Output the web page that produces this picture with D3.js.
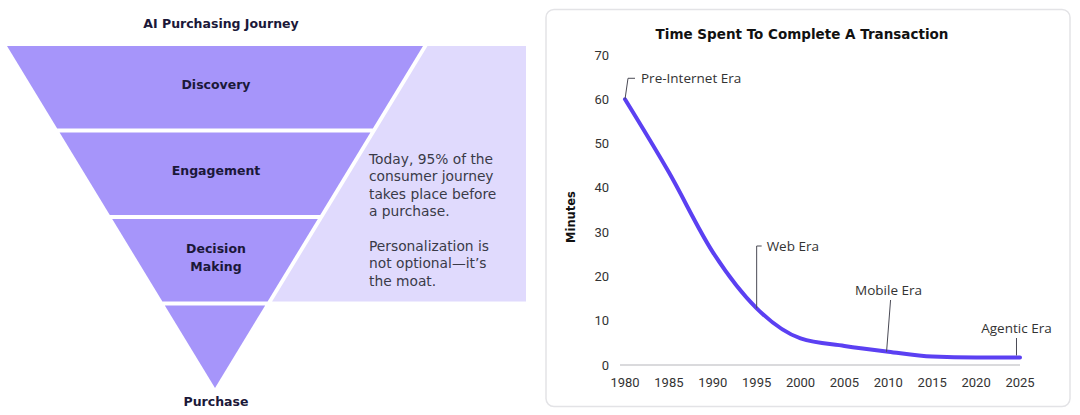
<!DOCTYPE html>
<html>
<head>
<meta charset="utf-8">
<script src="https://cdn.jsdelivr.net/npm/d3@7"></script>
<style>
  body { margin: 0; background: #fff; }
  svg { display: block; font-family: Roboto, "Noto Sans", sans-serif; }
  .bold { font-family: "DejaVu Sans", sans-serif; font-weight: bold; }
  .note { font-family: "DejaVu Sans", sans-serif; }
  .era { font-family: "Open Sans", sans-serif; }
</style>
</head>
<body>
<div id="chart"></div>
<script>
// funnel stages, top to bottom
const stages = ['Discovery', 'Engagement', 'Decision Making', 'Purchase'];
const noteLines = [
  ['Today, 95% of the', 'consumer journey', 'takes place before', 'a purchase.'],
  ['Personalization is', 'not optional\u2014it\u2019s', 'the moat.']
];

// time spent to complete a transaction (minutes)
const years = [1980, 1985, 1990, 1995, 2000, 2005, 2010, 2015, 2020, 2025];
const minutes = [60, 43.5, 25.5, 12.8, 6.0, 4.3, 3.0, 1.9, 1.7, 1.7];
const yTicks = [0, 10, 20, 30, 40, 50, 60, 70];
const xTicks = [1980, 1985, 1990, 1995, 2000, 2005, 2010, 2015, 2020, 2025];
const eras = [
  { label: 'Pre-Internet Era', year: 1980, value: 60 },
  { label: 'Web Era', year: 1995, value: 12.8 },
  { label: 'Mobile Era', year: 2009.8, value: 3.0 },
  { label: 'Agentic Era', year: 2024.6, value: 1.7 }
];

const W = 1080, H = 415;
const svg = d3.select('#chart').append('svg').attr('width', W).attr('height', H);

// ---------- left: funnel ----------
const funnelTop = 46, funnelBottom = 388, cx = 215;
const halfW = d3.scaleLinear().domain([funnelTop, funnelBottom]).range([208, 0]);
const bandY = d3.scaleBand().domain(stages).range([funnelTop, funnelBottom]).paddingInner(0.046);
const dark = '#1b1839';

svg.append('text')
  .attr('class', 'bold')
  .attr('x', 221).attr('y', 24).attr('dy', '0.35em')
  .attr('text-anchor', 'middle')
  .style('font-size', '12.5px').style('fill', dark)
  .text('AI Purchasing Journey');

// light side panel beside the funnel (down to bottom of third stage)
const panelBottom = bandY('Decision Making') + bandY.bandwidth();
svg.append('polygon')
  .attr('points', [
    [cx + halfW(funnelTop) + 4.5, funnelTop],
    [526, funnelTop],
    [526, panelBottom],
    [cx + halfW(panelBottom) + 4.5, panelBottom]
  ].map(p => p.join(',')).join(' '))
  .style('fill', '#e0dafd');

svg.selectAll('.band')
  .data(stages)
  .enter()
  .append('polygon')
  .attr('class', 'band')
  .attr('points', (d) => {
    const y0 = bandY(d), y1 = y0 + bandY.bandwidth();
    return [
      [cx - halfW(y0), y0], [cx + halfW(y0), y0],
      [cx + halfW(y1), y1], [cx - halfW(y1), y1]
    ].map(p => p.join(',')).join(' ');
  })
  .style('fill', '#a695fa');

stages.forEach((s, i) => {
  const words = s === 'Decision Making' ? ['Decision', 'Making'] : [s];
  let yc = bandY(s) + bandY.bandwidth() / 2 - 3;
  if (i === stages.length - 1) yc = 402;
  const t = svg.append('text')
    .attr('class', 'bold')
    .attr('x', cx + 1).attr('y', yc - (words.length - 1) * 9)
    .attr('text-anchor', 'middle')
    .style('font-size', '12.5px').style('fill', dark);
  words.forEach((w, k) => {
    t.append('tspan').attr('x', cx + 1).attr('dy', k === 0 ? '0.35em' : '18px').text(w);
  });
});

noteLines.forEach((para, p) => {
  const t = svg.append('text')
    .attr('class', 'note')
    .attr('x', 369).attr('y', p === 0 ? 159 : 246)
    .style('font-size', '13.8px').style('fill', '#3a3a48');
  para.forEach((line, k) => {
    t.append('tspan').attr('x', 369).attr('dy', k === 0 ? '0.35em' : '17.5px').text(line);
  });
});

// ---------- right: line chart ----------
svg.append('rect')
  .attr('x', 546).attr('y', 9.5).attr('width', 524).attr('height', 397)
  .attr('rx', 8)
  .style('fill', '#fff').style('stroke', '#e3e3e6').style('stroke-width', 1.5);

const x = d3.scaleLinear().domain([1980, 2025]).range([625, 1020]);
const y = d3.scaleLinear().domain([0, 70]).range([365, 55]);

svg.append('text')
  .attr('class', 'bold')
  .attr('x', 802).attr('y', 34).attr('dy', '0.35em')
  .attr('text-anchor', 'middle')
  .style('font-size', '13.5px').style('fill', '#111')
  .text('Time Spent To Complete A Transaction');

svg.append('line')
  .attr('x1', x(1980) - 5).attr('x2', x(2025))
  .attr('y1', y(0)).attr('y2', y(0))
  .style('stroke', '#b5b5ba').style('stroke-width', 1);

svg.selectAll('.ytick')
  .data(yTicks)
  .enter()
  .append('text')
  .attr('class', 'ytick')
  .attr('x', 609).attr('y', (d) => y(d)).attr('dy', '0.35em')
  .attr('text-anchor', 'end')
  .style('font-size', '13px').style('fill', '#333')
  .text((d) => d);

svg.selectAll('.xtick')
  .data(xTicks)
  .enter()
  .append('text')
  .attr('class', 'xtick')
  .attr('x', (d) => x(d)).attr('y', 382).attr('dy', '0.35em')
  .attr('text-anchor', 'middle')
  .style('font-size', '13px').style('fill', '#333')
  .text((d) => d);

svg.append('text')
  .attr('class', 'bold')
  .attr('transform', 'translate(571,217) rotate(-90)')
  .attr('dy', '0.35em')
  .attr('text-anchor', 'middle')
  .style('font-size', '11.5px').style('fill', '#111')
  .text('Minutes');

const pts = years.map((yr, i) => ({ year: yr, value: minutes[i] }));
svg.append('path')
  .datum(pts)
  .attr('d', d3.line().x((d) => x(d.year)).y((d) => y(d.value)).curve(d3.curveMonotoneX))
  .style('fill', 'none').style('stroke', '#5b40f2').style('stroke-width', 4)
  .style('stroke-linecap', 'round');

// era call-outs
const connector = { stroke: '#4a4a55', width: 1 };
eras.forEach((e) => {
  const px = x(e.year), py = y(e.value);
  let path, tx, ty, anchor;
  if (e.label === 'Pre-Internet Era') {
    path = `M${px},${py}L${px + 3},${py - 21}L${px + 10},${py - 21}`;
    tx = px + 16; ty = py - 21; anchor = 'start';
  } else if (e.label === 'Web Era') {
    path = `M${px},${py}L${px},${246}L${px + 5},${246}`;
    tx = px + 10; ty = 246; anchor = 'start';
  } else if (e.label === 'Mobile Era') {
    path = `M${px},${py}L${px + 4},${300}`;
    tx = px + 2; ty = 290.5; anchor = 'middle';
  } else {
    path = `M${px},${py - 2}L${px},${338}`;
    tx = px; ty = 328; anchor = 'middle';
  }
  svg.append('path').attr('d', path)
    .style('fill', 'none').style('stroke', connector.stroke).style('stroke-width', connector.width);
  svg.append('text')
    .attr('class', 'era')
    .attr('x', tx).attr('y', ty).attr('dy', '0.35em')
    .attr('text-anchor', anchor)
    .style('font-size', '13.5px').style('fill', '#333')
    .text(e.label);
});
</script>
</body>
</html>
